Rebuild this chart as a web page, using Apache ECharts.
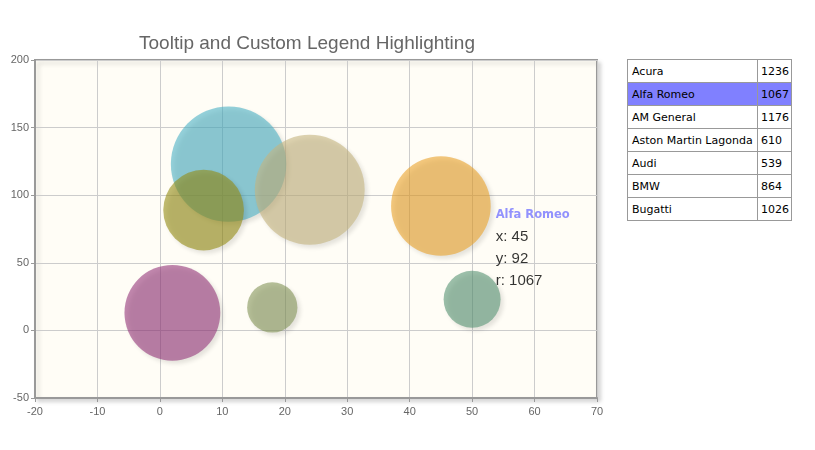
<!DOCTYPE html>
<html>
<head>
<meta charset="utf-8">
<script src="https://cdn.jsdelivr.net/npm/echarts@6/dist/echarts.min.js"></script>
<style>
  html, body { margin: 0; padding: 0; background: #ffffff; }
  #chart { position: absolute; left: 0; top: 0; width: 815px; height: 450px; }
  #legend { position: absolute; left: 627px; top: 59px; border-collapse: collapse;
            font-family: "DejaVu Sans", Verdana, sans-serif; font-size: 11px; color: #000; background: #fff; }
  #legend td { border: 1px solid #999; height: 22px; padding: 0 4px; white-space: nowrap; }
  #legend td.n { width: 121px; }
  #legend td.v { padding: 0 2px 0 3px; }
  #legend tr.hl td { background: #8080ff; }
</style>
</head>
<body>
<div id="chart"></div>
<table id="legend"></table>
<script>
const names = ["Acura", "Alfa Romeo", "AM General", "Aston Martin Lagonda", "Audi", "BMW", "Bugatti"];
const xValues = [11, 45, 24, 50, 18, 7, 2];
const yValues = [123, 92, 104, 23, 17, 89, 13];
const rValues = [1236, 1067, 1176, 610, 539, 864, 1026];
const colors = ["#4bb2c5", "#EAA228", "#c5b47f", "#579575", "#839557", "#958c12", "#953579"];
const highlighted = "Alfa Romeo";

function rgba(hex, a) {
  const n = parseInt(hex.slice(1), 16);
  return 'rgba(' + (n >> 16 & 255) + ',' + (n >> 8 & 255) + ',' + (n & 255) + ',' + a + ')';
}

// legend table
const tbl = document.getElementById('legend');
names.forEach((n, i) => {
  const tr = document.createElement('tr');
  if (n === highlighted) tr.className = 'hl';
  const a = document.createElement('td'); a.className = 'n'; a.textContent = n;
  const b = document.createElement('td'); b.className = 'v'; b.textContent = rValues[i];
  tr.appendChild(a); tr.appendChild(b); tbl.appendChild(tr);
});

// sort by radius descending so larger bubbles are drawn first
const order = names.map((_, i) => i).sort((a, b) => rValues[b] - rValues[a]);
const data = order.map(i => {
  const item = {
    name: names[i],
    value: [xValues[i], yValues[i], rValues[i]],
    itemStyle: { color: rgba(colors[i], 0.74) }
  };
  if (names[i] === highlighted) {
    item.label = {
      show: true,
      position: 'right',
      distance: 5,
      offset: [0, 42],
      align: 'left',
      formatter: p => '{t|' + p.name + '}\n{v|x: ' + p.value[0] + '}\n{v|y: ' + p.value[1] + '}\n{v|r: ' + p.value[2] + '}',
      rich: {
        t: { fontFamily: 'DejaVu Sans, Verdana, sans-serif', fontSize: 11.5, fontWeight: 'bold', color: '#7777ff', lineHeight: 22 },
        v: { fontFamily: 'Liberation Sans, Arial, sans-serif', fontSize: 15, color: '#000', lineHeight: 22 }
      }
    };
  }
  return item;
});

const chart = echarts.init(document.getElementById('chart'), null, { renderer: 'canvas' });
const axisLabel = { color: '#666', fontSize: 11, fontFamily: 'Liberation Sans, Arial, sans-serif' };
chart.setOption({
  animation: false,
  title: {
    text: 'Tooltip and Custom Legend Highlighting',
    left: 302, top: 29, textAlign: 'center',
    textStyle: { fontFamily: 'Liberation Sans, Arial, sans-serif', fontSize: 19, fontWeight: 'normal', color: '#666' }
  },
  grid: {
    left: 35, right: 218, top: 60, bottom: 52,
    show: true, backgroundColor: '#fffdf6', borderColor: '#999', borderWidth: 2,
    shadowColor: 'rgba(0,0,0,0.15)', shadowBlur: 4, shadowOffsetX: 3, shadowOffsetY: 3
  },
  xAxis: {
    type: 'value', min: -20, max: 70, interval: 10,
    axisLine: { show: true, onZero: false, lineStyle: { color: '#999', width: 2 } },
    axisTick: { show: true, length: 4, lineStyle: { color: '#999' } },
    axisLabel: Object.assign({ margin: 8 }, axisLabel),
    splitLine: { show: true, lineStyle: { color: '#ccc', width: 1 } }
  },
  yAxis: {
    type: 'value', min: -50, max: 200, interval: 50,
    axisLine: { show: true, onZero: false, lineStyle: { color: '#999', width: 2 } },
    axisTick: { show: true, length: 4, lineStyle: { color: '#999' } },
    axisLabel: Object.assign({ margin: 6 }, axisLabel),
    splitLine: { show: true, lineStyle: { color: '#ccc', width: 1 } }
  },
  series: [{
    type: 'scatter',
    data: data,
    symbolSize: v => v[2] * 0.0934,
    itemStyle: {
      shadowColor: 'rgba(0,0,0,0.18)', shadowBlur: 4, shadowOffsetX: 3, shadowOffsetY: 3
    },
    emphasis: { disabled: true }
  }]
});
</script>
</body>
</html>
